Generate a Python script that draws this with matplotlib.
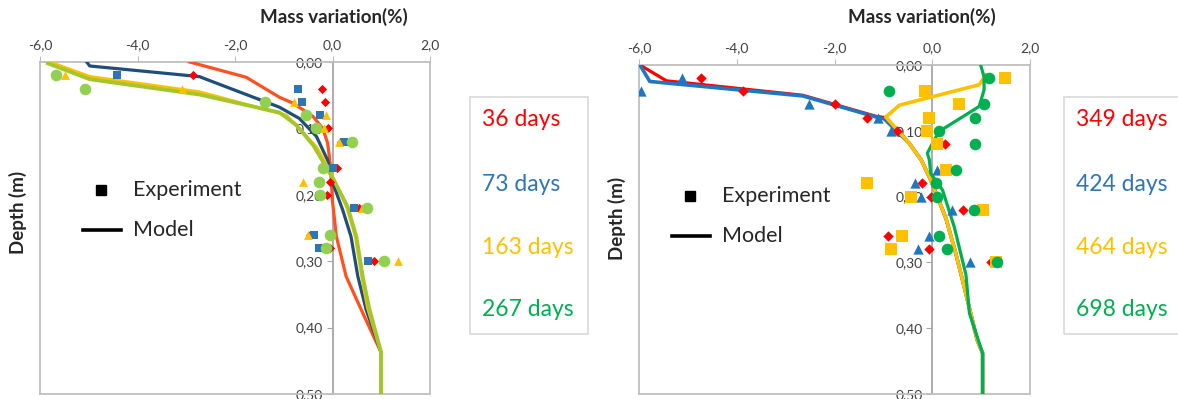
import matplotlib
matplotlib.use("Agg")
import matplotlib.pyplot as plt
from matplotlib.lines import Line2D
from matplotlib.patches import Rectangle

plt.rcParams['font.family'] = ['Lato', 'DejaVu Sans']

W, H = 1178, 399

# ---- axis ticks ----
xticks = [-6, -4, -2, 0, 2]
xtick_labels = ["-6,0", "-4,0", "-2,0", "0,0", "2,0"]
yticks = [0.0, 0.1, 0.2, 0.3, 0.4, 0.5]
ytick_labels = ["0,00", "0,10", "0,20", "0,30", "0,40", "0,50"]

# ---- left panel: model profiles (depth, mass variation) ----
m36_d = [0, 0.023, 0.053, 0.062, 0.082, 0.10, 0.122, 0.158, 0.185, 0.210, 0.263, 0.323, 0.378, 0.438, 0.50]
m36_x = [-2.93, -1.77, -1.09, -0.81, -0.40, -0.20, -0.10, -0.04, -0.02, 0.0, 0.08, 0.28, 0.62, 1.0, 1.0]
m73_d = [0, 0.006, 0.022, 0.026, 0.068, 0.085, 0.112, 0.148, 0.183, 0.223, 0.263, 0.323, 0.373, 0.438, 0.50]
m73_x = [-5.04, -4.98, -2.73, -2.59, -1.09, -0.68, -0.33, -0.10, 0.01, 0.21, 0.38, 0.52, 0.69, 1.0, 1.0]
m163_d = [0, 0.022, 0.045, 0.08, 0.128, 0.163, 0.218, 0.263, 0.323, 0.37, 0.438, 0.50]
m163_x = [-5.80, -4.98, -2.73, -0.95, -0.33, -0.06, 0.29, 0.47, 0.60, 0.72, 1.0, 1.0]
m267_d = [0.002, 0.026, 0.049, 0.076, 0.095, 0.125, 0.158, 0.181, 0.218, 0.263, 0.323, 0.37, 0.438, 0.50]
m267_x = [-5.84, -4.98, -2.73, -1.09, -0.74, -0.40, -0.13, 0.05, 0.31, 0.49, 0.62, 0.75, 1.0, 1.0]

# ---- left panel: measurements ----
e36_d = [0.02, 0.04, 0.06, 0.10, 0.12, 0.16, 0.18, 0.20, 0.22, 0.26, 0.28, 0.30]
e36_x = [-2.87, -0.21, -0.16, -0.10, 0.18, 0.09, -0.06, -0.12, 0.55, -0.47, -0.06, 0.86]
e73_d = [0.02, 0.04, 0.06, 0.08, 0.12, 0.16, 0.22, 0.26, 0.28, 0.30]
e73_x = [-4.42, -0.70, -0.62, -0.25, 0.23, 0.02, 0.45, -0.38, -0.28, 0.72]
e163_d = [0.02, 0.04, 0.06, 0.08, 0.10, 0.12, 0.18, 0.22, 0.26, 0.30]
e163_x = [-5.48, -3.08, -0.80, -0.13, -0.18, 0.14, -0.60, 0.60, -0.51, 1.34]
e267_d = [0.02, 0.04, 0.06, 0.08, 0.10, 0.12, 0.16, 0.18, 0.20, 0.22, 0.26, 0.28, 0.30]
e267_x = [-5.68, -5.07, -1.38, -0.54, -0.33, 0.40, -0.20, -0.28, -0.25, 0.70, -0.06, -0.13, 1.05]

# ---- right panel: model profiles ----
m349_d = [0, 0.024, 0.046, 0.078, 0.08, 0.119, 0.145, 0.175, 0.233, 0.286, 0.327, 0.418, 0.438, 0.50]
m349_x = [-5.98, -5.44, -2.65, -1.15, -0.95, -0.47, -0.22, -0.03, 0.28, 0.48, 0.62, 0.92, 1.03, 1.03]
m424_d = [0, 0.025, 0.047, 0.079, 0.082, 0.119, 0.145, 0.175, 0.233, 0.286, 0.327, 0.418, 0.438, 0.50]
m424_x = [-5.98, -5.78, -2.65, -1.15, -0.98, -0.47, -0.22, -0.03, 0.28, 0.48, 0.62, 0.92, 1.03, 1.03]
m464_d = [0.015, 0.030, 0.061, 0.079, 0.119, 0.145, 0.175, 0.233, 0.286, 0.327, 0.418, 0.438, 0.50]
m464_x = [1.10, 0.96, -0.67, -0.95, -0.47, -0.22, -0.03, 0.28, 0.48, 0.62, 0.92, 1.03, 1.03]
m698_d = [0, 0.018, 0.038, 0.063, 0.101, 0.124, 0.134, 0.144, 0.165, 0.19, 0.246, 0.319, 0.377, 0.438, 0.50]
m698_x = [0.99, 1.06, 1.06, 0.96, 0.14, -0.03, -0.10, -0.06, -0.03, 0.21, 0.45, 0.69, 0.76, 1.03, 1.03]

# ---- right panel: measurements ----
e349_d = [0.02, 0.04, 0.06, 0.08, 0.10, 0.12, 0.18, 0.20, 0.22, 0.26, 0.28, 0.30]
e349_x = [-4.73, -3.88, -2.0, -1.34, -0.73, 0.27, -0.21, -0.03, 0.63, -0.90, -0.06, 1.20]
e424_d = [0.02, 0.04, 0.06, 0.08, 0.10, 0.16, 0.18, 0.20, 0.22, 0.26, 0.28, 0.30]
e424_x = [-5.13, -5.95, -2.53, -1.10, -0.84, 0.09, -0.35, -0.23, 0.41, -0.06, -0.30, 0.77]
e464_d = [0.02, 0.04, 0.06, 0.08, 0.10, 0.12, 0.16, 0.18, 0.20, 0.22, 0.26, 0.28, 0.30]
e464_x = [1.49, -0.14, 0.55, -0.06, -0.10, 0.09, 0.28, -1.34, -0.44, 1.04, -0.62, -0.84, 1.30]
e698_d = [0.02, 0.04, 0.06, 0.08, 0.10, 0.12, 0.16, 0.18, 0.20, 0.22, 0.26, 0.28, 0.30]
e698_x = [1.16, -0.88, 1.06, 0.88, 0.13, 0.88, 0.48, 0.07, 0.09, 0.86, 0.13, 0.31, 1.33]

left_labels = ["36 days", "73 days", "163 days", "267 days"]
right_labels = ["349 days", "424 days", "464 days", "698 days"]
label_colors = ["#FF0000", "#2E75B6", "#FFC000", "#00B050"]

FRAME = "#BFBFBF"
TXT = "#404040"


def fx(px):
    return px / W


def fy(py):
    return 1 - py / H


def style_axes(ax):
    ax.set_xlim(-6, 2)
    ax.set_ylim(0.5, 0)
    ax.xaxis.tick_top()
    ax.set_xticks(xticks)
    ax.set_xticklabels(xtick_labels)
    ax.set_yticks(yticks)
    ax.set_yticklabels(ytick_labels)
    for s in ax.spines.values():
        s.set_color(FRAME)
        s.set_linewidth(1.3)
    ax.spines['left'].set_position(('data', 0))
    ax.spines['left'].set_color("#A6A6A6")
    ax.plot([0, 0], [0, 1], transform=ax.transAxes, color=FRAME, lw=1.3, clip_on=False)
    ax.tick_params(axis='x', direction='out', length=4, color=FRAME, labelsize=10,
                   labelcolor=TXT, pad=4)
    ax.tick_params(axis='y', direction='out', length=4, color="#A6A6A6", labelsize=10,
                   labelcolor=TXT, pad=3)
    ax.patch.set_alpha(0)


fig = plt.figure(figsize=(W / 100, H / 100), dpi=100)
ax1 = fig.add_axes([fx(40), fy(394), (430 - 40) / W, (394 - 62) / H])
ax2 = fig.add_axes([fx(639), fy(394), (1030 - 639) / W, (394 - 65) / H])
style_axes(ax1)
style_axes(ax2)

# left panel
ax1.plot(m36_x, m36_d, color="#FF5020", lw=2.3, zorder=3)
ax1.plot(m73_x, m73_d, color="#1F4E79", lw=2.3, zorder=3)
ax1.plot(m163_x, m163_d, color="#FFC000", lw=2.3, zorder=3)
ax1.plot(m267_x, m267_d, color="#A2C62C", lw=2.7, zorder=3)
ax1.scatter(e36_x, e36_d, marker="D", s=22, color="#FF0000", lw=0, zorder=4)
ax1.scatter(e73_x, e73_d, marker="s", s=34, color="#2E75B6", lw=0, zorder=4)
ax1.scatter(e163_x, e163_d, marker="^", s=40, color="#FFC000", lw=0, zorder=4)
ax1.scatter(e267_x, e267_d, marker="o", s=70, color="#92D050", lw=0, zorder=4)

# right panel
ax2.plot(m349_x, m349_d, color="#FF0000", lw=2.3, zorder=3)
ax2.plot(m424_x, m424_d, color="#1F77C4", lw=2.6, zorder=3)
ax2.plot(m464_x, m464_d, color="#FFC000", lw=2.6, zorder=3)
ax2.plot(m698_x, m698_d, color="#00B050", lw=2.3, zorder=3)
ax2.scatter(e349_x, e349_d, marker="D", s=28, color="#FF0000", lw=0, zorder=4)
ax2.scatter(e424_x, e424_d, marker="^", s=55, color="#1F77C4", lw=0, zorder=4)
ax2.scatter(e464_x, e464_d, marker="s", s=70, color="#FFC000", lw=0, zorder=4)
ax2.scatter(e698_x, e698_d, marker="o", s=70, color="#00B050", lw=0, zorder=4)

# axis titles
for cx in (334, 922):
    fig.text(fx(cx), fy(17), "Mass variation(%)", ha="center", va="center",
             fontsize=13.5, fontweight="bold", color="#262626")
for cx, cy in ((18, 212), (617, 218)):
    fig.text(fx(cx), fy(cy), "Depth (m)", ha="center", va="center", rotation=90,
             fontsize=13.5, fontweight="bold", color="#262626")

# marker / line key inside each panel
for sq, txt_x, y_exp, line_x0, line_x1, y_mod in ((101, 133, 190, 83, 121, 230),
                                                   (690, 722, 196, 672, 710, 236)):
    fig.add_artist(Line2D([fx(sq)], [fy(y_exp)], marker="s", markersize=7,
                          color="black", lw=0, transform=fig.transFigure))
    fig.text(fx(txt_x), fy(y_exp), "Experiment", ha="left", va="center",
             fontsize=15.5, color="#262626")
    fig.add_artist(Line2D([fx(line_x0), fx(line_x1)], [fy(y_mod), fy(y_mod)],
                          color="black", lw=2.6, transform=fig.transFigure))
    fig.text(fx(txt_x), fy(y_mod), "Model", ha="left", va="center",
             fontsize=15.5, color="#262626")

# colour key boxes
for bx0, bx1, tx, labels in ((470, 588, 482, left_labels), (1064, 1185, 1076, right_labels)):
    fig.add_artist(Rectangle((fx(bx0), fy(334)), fx(bx1) - fx(bx0), fy(97) - fy(334),
                             transform=fig.transFigure, fill=False,
                             edgecolor="#D9D9D9", lw=1.2))
    for lab, col, ty in zip(labels, label_colors, (120, 185, 248, 310)):
        fig.text(fx(tx), fy(ty), lab, ha="left", va="center", fontsize=16.5, color=col)

fig.savefig("out.png", dpi=100)
